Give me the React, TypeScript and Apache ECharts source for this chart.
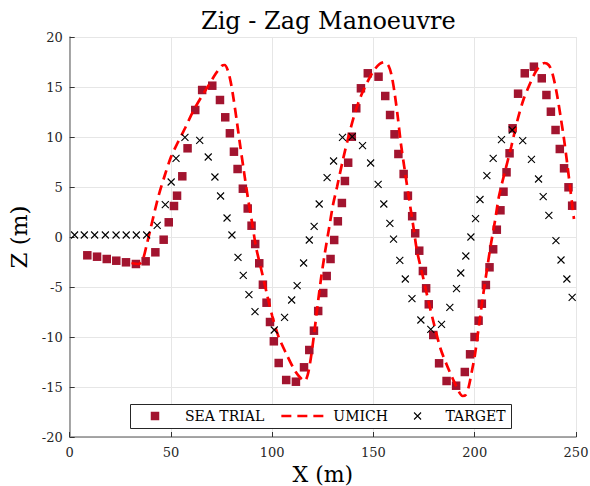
import React, { useEffect, useRef } from "react";
import * as echarts from "echarts";

const seaX = [8.7,13.5,18.3,23.0,27.8,32.7,37.5,42.3,46.4,48.9,51.5,53.0,55.6,58.2,62.0,65.4,70.4,74.2,76.8,79.1,81.1,82.9,85.5,87.9,89.8,91.6,93.6,95.4,97.2,98.9,100.8,103.2,106.9,111.7,115.7,118.3,120.6,122.7,125.2,126.9,128.8,130.6,132.4,134.4,135.9,137.5,139.3,141.5,143.8,147.2,152.5,155.8,158.2,160.4,162.3,164.9,167.0,169.1,170.6,172.6,174.4,176.0,177.3,179.5,182.4,186.1,190.8,195.1,197.7,199.9,201.9,203.5,205.5,207.3,209.1,210.9,212.7,214.2,215.7,217.2,218.7,221.4,224.7,229.2,233.1,235.4,237.6,239.9,242.0,244.1,246.3,248.1];
const seaY = [-1.83,-1.97,-2.2,-2.37,-2.53,-2.7,-2.43,-1.53,-0.27,1.47,3.1,4.13,6.07,8.87,12.7,14.7,15.13,13.7,11.97,10.37,8.53,6.8,4.83,2.85,1.13,-0.7,-2.63,-4.77,-6.57,-8.5,-10.43,-12.6,-14.3,-14.47,-13.03,-11.3,-9.37,-7.4,-5.6,-3.9,-2.2,-0.3,1.57,3.4,5.6,7.43,10.03,12.87,14.87,16.37,16.03,14.1,12.2,10.27,8.3,6.3,4.13,2.08,0.37,-1.37,-3.4,-5.13,-6.73,-9.8,-12.63,-14.4,-14.87,-13.5,-11.73,-10.0,-8.37,-6.67,-4.8,-3.03,-1.23,0.73,2.67,4.53,6.47,8.37,10.87,14.33,16.37,17.03,15.87,14.2,12.53,10.7,8.8,6.87,4.97,3.13];

const umichX = [30.5,34,36,38,40,42,44,47,50,53,57,61,65,69,72,75,76.5,78,79.5,81,82.5,84,86,88,90,92,95,97.5,100,103,107,111,114,116,117.5,119,120.5,122,124,126,128,130,132,135,138,141,144,147,150,153,155.5,157.5,159,160.5,162,163.5,165.5,167.5,169.5,171.5,174,177,180,183,186,189,192,194,195.5,197,198.5,200,202,204,206,208,210,212,215,218,221,224,227,230,232.5,234.5,236.5,238,239.5,241,242.5,244,245.5,247,248.5,249];
const umichY = [-2.6,-2.7,-2.3,-0.8,0.9,2.6,4.2,6.2,8,9.3,10.9,12.6,14,15.3,16.3,17.1,17.2,16.7,15.5,13.7,11.6,9.4,6.6,3.9,1.5,-1,-3.6,-5.8,-7.9,-9.9,-11.7,-13.3,-14.1,-14.4,-13.8,-12.2,-10,-7.5,-4.3,-1.6,0.8,3.2,5,7.8,10.3,12.5,14.2,15.5,16.6,17.3,17.5,17.1,16.1,14.3,12,9.4,6.6,3.9,1.3,-1.4,-3.6,-6.3,-8.8,-11.1,-12.7,-14.1,-15.4,-15.9,-15.8,-15,-13.5,-11.9,-9,-6,-3.3,-0.7,1.6,4.1,6.6,9,11.6,13.7,15.2,16.5,17.2,17.4,17.2,16.6,15.4,13.8,11.9,9.9,7.6,5.1,2.6,1.8];

const tgtX = [2.4,7.2,12.3,17.6,22.9,27.9,32.9,38.0,43.2,47.2,50.1,52.5,56.9,64.2,68.4,71.7,74.5,77.7,80.1,83.1,85.7,88.5,91.5,101.0,106.1,109.6,112.3,115.5,118.3,120.7,123.2,127.1,130.3,134.7,139.5,144.6,148.6,152.3,155.1,158.1,159.9,163.0,165.7,169.0,173.4,178.3,183.6,187.7,191.0,193.1,195.6,198.1,200.4,202.6,206.0,209.1,213.2,218.5,223.7,228.0,231.5,233.8,236.6,240.1,242.6,245.5,248.1];
const tgtY = [0.2,0.2,0.2,0.2,0.2,0.2,0.2,0.2,1.17,3.23,5.5,7.87,9.97,9.67,8.0,6.0,4.1,1.9,0.2,-2.03,-3.83,-5.77,-7.47,-9.3,-8.03,-6.3,-4.87,-2.6,-0.3,1.07,3.3,5.93,7.6,9.97,10.03,9.13,7.4,5.27,3.3,1.37,-0.22,-2.33,-4.2,-6.17,-8.3,-9.23,-8.73,-7.03,-5.17,-3.6,-1.9,0,1.83,3.75,6.13,7.87,9.73,10.7,9.63,7.77,5.8,4.03,2.17,-0.37,-2.3,-4.2,-6.03];

const seriesNames = ["SEA TRIAL", "UMICH", "TARGET"];
const titleText = "Zig - Zag Manoeuvre";
const xName = "X (m)";
const yName = "Z (m)";

const FONT = "'DejaVu Serif', serif";
const SQUARE = "path://M0,0L10,0L10,10L0,10Z";
const CROSS = "path://M0,0L10,10M10,0L0,10";

const zip = (xs: number[], ys: number[]) => xs.map((x, i) => [x, ys[i]]);

export default function App() {
  const ref = useRef<HTMLDivElement>(null);
  useEffect(() => {
    if (!ref.current) return;
    const chart = echarts.init(ref.current, null, { renderer: "svg" });
    const legendText = { fontFamily: FONT, fontSize: 14, color: "#000" };
    chart.setOption({
      animation: false,
      backgroundColor: "#fff",
      title: {
        text: titleText,
        left: 196,
        top: 4,
        textStyle: { fontFamily: FONT, fontSize: 24, fontWeight: "normal", color: "#000" },
      },
      grid: { left: 69.7, right: 14, top: 37, bottom: 49, outerBoundsMode: "none", containLabel: false },
      xAxis: {
        type: "value",
        min: 0,
        max: 250,
        interval: 50,
        name: xName,
        nameLocation: "middle",
        nameGap: 25,
        nameTextStyle: { fontFamily: FONT, fontSize: 22, color: "#000" },
        axisLine: { show: true, onZero: false, lineStyle: { color: "#8a8a8a", width: 1.5 } },
        axisTick: { show: true, inside: true, length: 5, lineStyle: { color: "#333" } },
        axisLabel: { fontFamily: FONT, fontSize: 13, color: "#262626", margin: 9 },
        splitLine: { show: true, lineStyle: { color: "#e6e6e6", width: 1 } },
      },
      yAxis: {
        type: "value",
        min: -20,
        max: 20,
        interval: 5,
        name: yName,
        nameLocation: "middle",
        nameGap: 38,
        nameTextStyle: { fontFamily: FONT, fontSize: 23, color: "#000" },
        axisLine: { show: true, onZero: false, lineStyle: { color: "#8a8a8a", width: 1.5 } },
        axisTick: { show: true, inside: true, length: 5, lineStyle: { color: "#333" } },
        axisLabel: { fontFamily: FONT, fontSize: 13, color: "#262626", margin: 7 },
        splitLine: { show: true, lineStyle: { color: "#e6e6e6", width: 1 } },
      },
      legend: [
        {
          data: [{ name: seriesNames[0], icon: SQUARE }],
          left: 150.75,
          top: 409,
          padding: 0,
          itemWidth: 50,
          itemHeight: 8.5,
          textStyle: legendText,
          itemStyle: { opacity: 1 },
          selectedMode: false,
        },
        {
          data: [{ name: seriesNames[1] }],
          left: 280,
          top: 409,
          padding: 0,
          itemWidth: 47,
          itemHeight: 14,
          textStyle: legendText,
          itemStyle: { opacity: 0 },
          lineStyle: { color: "#FF0000", width: 2.7, type: [10, 6] },
          selectedMode: false,
        },
        {
          data: [{ name: seriesNames[2], icon: CROSS }],
          left: 413.5,
          top: 409,
          padding: 0,
          itemWidth: 46,
          itemHeight: 7,
          textStyle: legendText,
          itemStyle: { color: "rgba(0,0,0,0)", borderColor: "#000", borderWidth: 1.1, opacity: 1 },
          selectedMode: false,
        },
      ],
      graphic: [
        {
          type: "rect",
          z: 3,
          shape: { x: 130.5, y: 404.5, width: 381, height: 24 },
          style: { fill: "#fff", stroke: "#262626", lineWidth: 1 },
        },
      ],
      series: [
        {
          name: seriesNames[0],
          type: "scatter",
          symbol: "rect",
          symbolSize: 8.5,
          itemStyle: { color: "#A2142F", opacity: 1 },
          data: zip(seaX, seaY),
          z: 2,
        },
        {
          name: seriesNames[1],
          type: "line",
          symbol: "none",
          smooth: 0.3,
          lineStyle: { color: "#FF0000", width: 2.7, type: [10, 6] },
          itemStyle: { color: "#FF0000" },
          data: zip(umichX, umichY),
          z: 3,
        },
        {
          name: seriesNames[2],
          type: "scatter",
          symbol: CROSS,
          symbolSize: 7,
          itemStyle: { color: "rgba(0,0,0,0)", borderColor: "#000", borderWidth: 1.1, opacity: 1 },
          data: zip(tgtX, tgtY),
          z: 4,
        },
      ],
    });
    return () => chart.dispose();
  }, []);
  return (
    <div
      ref={ref}
      style={{ position: "absolute", left: 0, top: 0, width: 590, height: 486 }}
    />
  );
}
